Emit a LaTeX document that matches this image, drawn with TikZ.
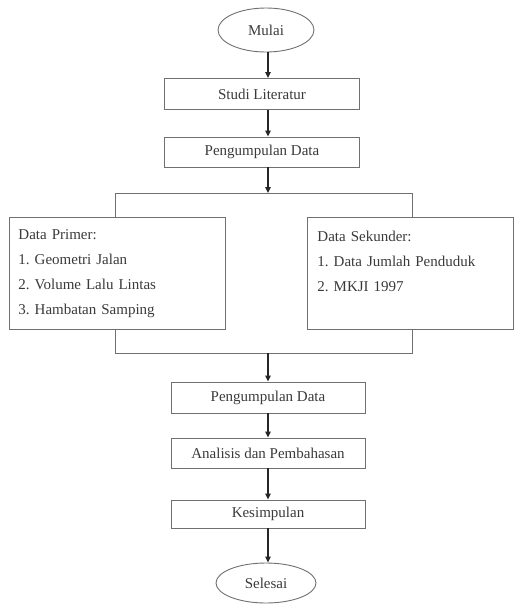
\documentclass[tikz,border=0pt]{standalone}
\usepackage{fontspec}
\setmainfont{Liberation Serif}
\usepackage{xcolor}
\usepackage{tikz}
\usetikzlibrary{positioning, arrows.meta, shapes.geometric}
\definecolor{boxline}{HTML}{707070}
\definecolor{flowtext}{HTML}{3A3A3A}
\definecolor{arrowdark}{HTML}{262626}
\frenchspacing

\tikzset{
  stepbox/.style={draw=boxline, line width=0.9pt, minimum width=195pt,
    minimum height=30pt, inner sep=0pt, text=flowtext,
    font=\fontsize{15}{25}\selectfont},
  terminal/.style={ellipse, draw=boxline, line width=0.9pt, inner sep=0pt,
    text=flowtext, font=\fontsize{15}{25}\selectfont},
  listbox/.style={draw=boxline, line width=0.9pt, anchor=north west,
    align=left, minimum height=112pt, text=flowtext,
    font=\fontsize{15}{25}\selectfont},
  flow/.style={draw=arrowdark, line width=1.4pt,
    -{Triangle[length=6pt,width=5.5pt]}},
  branch/.style={draw=boxline, line width=0.9pt},
}

\begin{document}
\begin{tikzpicture}[x=1pt, y=-1pt]
  \useasboundingbox (0,0) rectangle (515,606);

  \node[terminal, minimum width=96pt, minimum height=44pt] (mulai) at (266,30) {Mulai};
  \node[stepbox, minimum height=31pt] (studi) at (262,94) {Studi Literatur};
  \node[stepbox] (kumpul) at (262,152) {Pengumpulan Data};

  \coordinate (axis) at (268,0);
  \coordinate (split) at (268,193);
  \coordinate (splitleft) at (115,193);
  \coordinate (splitright) at (412,193);

  \node[listbox, inner xsep=9pt, text width=198pt] (primer) at (9,217)
    {Data Primer:\\1. Geometri Jalan\\2. Volume Lalu Lintas\\3. Hambatan Samping};
  \node[listbox, inner xsep=10pt, text width=186pt] (sekunder) at (307,217)
    {Data Sekunder:\\1. Data Jumlah Penduduk\\2. MKJI 1997\\~};

  \coordinate (join) at (268,353);
  \coordinate (joinleft) at (115,353);
  \coordinate (joinright) at (412,353);

  \node[stepbox, minimum width=194pt, minimum height=31pt] (kumpulb) at (268,397.5) {Pengumpulan Data};
  \node[stepbox, minimum width=194pt] (analisis) at (268,453) {Analisis dan Pembahasan};
  \node[stepbox, minimum width=194pt, minimum height=28pt] (simpul) at (268,514) {Kesimpulan};
  \node[terminal, minimum width=100pt, minimum height=40pt] (selesai) at (266,583) {Selesai};

  \draw[flow] (mulai.south -| axis) -- (studi.north -| axis);
  \draw[flow] (studi.south -| axis) -- (kumpul.north -| axis);
  \draw[flow] (kumpul.south -| axis) -- (split);
  \draw[branch] (primer.north -| splitleft) -- (splitleft) -- (splitright) -- (sekunder.north -| splitright);
  \draw[branch] (primer.south -| joinleft) -- (joinleft) -- (joinright) -- (sekunder.south -| joinright);
  \draw[flow] (join) -- (kumpulb.north);
  \draw[flow] (kumpulb) -- (analisis);
  \draw[flow] (analisis) -- (simpul);
  \draw[flow] (simpul.south -| axis) -- (selesai.north -| axis);
\end{tikzpicture}
\end{document}
